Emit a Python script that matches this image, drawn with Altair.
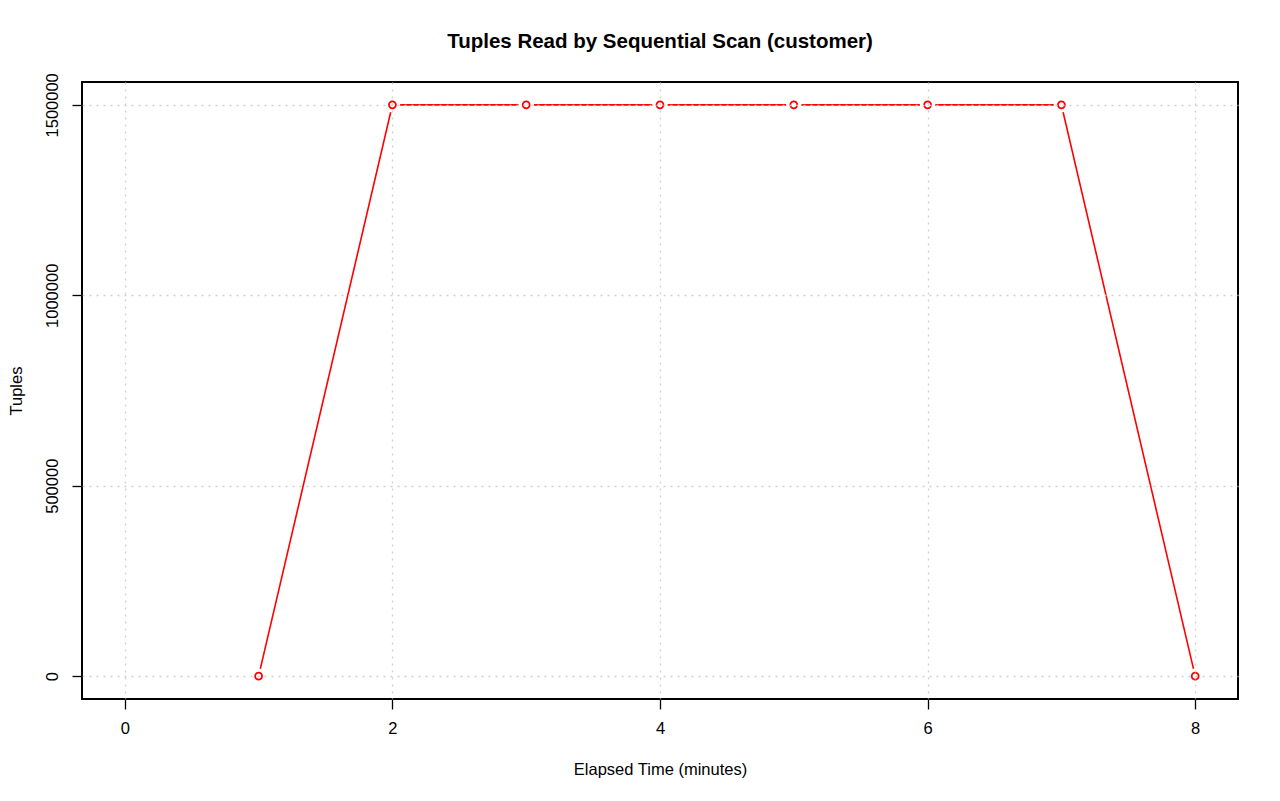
import altair as alt
import pandas as pd

minutes = [1, 2, 3, 4, 5, 6, 7, 8]
tuples = [0, 1500000, 1500000, 1500000, 1500000, 1500000, 1500000, 0]
x_ticks = [0, 2, 4, 6, 8]
y_ticks = [0, 500000, 1000000, 1500000]

df = pd.DataFrame({"minutes": minutes, "tuples": tuples})

FONT = "Liberation Sans"

xscale = alt.Scale(domain=[-0.32, 8.32], nice=False, zero=False)
yscale = alt.Scale(domain=[-60000, 1560000], nice=False, zero=False)

xaxis = alt.Axis(values=x_ticks, title="Elapsed Time (minutes)", grid=True,
                 gridColor="#cfcfcf", gridDash=[2, 5], gridWidth=1.3,
                 domain=False, tickSize=10, tickColor="black", tickWidth=1.3,
                 labelFontSize=16.5, labelFont=FONT, labelColor="black", labelPadding=11,
                 titleFontSize=16.5, titleFont=FONT, titleFontWeight="normal",
                 titleColor="black", titlePadding=25, zindex=1)
yaxis = alt.Axis(values=y_ticks, format="d", title="Tuples", grid=True,
                 gridColor="#cfcfcf", gridDash=[2, 5], gridWidth=1.3,
                 domain=False, tickSize=10, tickColor="black", tickWidth=1.3,
                 labelAngle=-90, labelAlign="center", labelBaseline="bottom",
                 labelFontSize=16.5, labelFont=FONT, labelColor="black", labelPadding=12,
                 titleFontSize=16.5, titleFont=FONT, titleFontWeight="normal",
                 titleColor="black", titlePadding=20, zindex=1)

base = alt.Chart(df).encode(
    x=alt.X("minutes:Q", scale=xscale, axis=xaxis),
    y=alt.Y("tuples:Q", scale=yscale, axis=yaxis),
)

line = base.mark_line(color="#ff0000", strokeWidth=1.6, clip=True)
halo = base.mark_point(shape="circle", filled=True, color="white", size=240, opacity=1, clip=True)
pts = base.mark_point(shape="circle", filled=False, fill="white", fillOpacity=1,
                      stroke="#ff0000", strokeWidth=1.8, size=48, opacity=1, clip=True)

chart = alt.layer(line, halo, pts).properties(
    width=1156, height=617,
    title=alt.Title("Tuples Read by Sequential Scan (customer)", font=FONT,
                    fontSize=20.5, fontWeight="bold", color="black", anchor="middle", offset=20),
    autosize=alt.AutoSizeParams(type="none"),
    padding={"left": 74, "top": 74, "right": 34, "bottom": 94},
    background="white",
).configure_view(stroke="black", strokeWidth=2)

chart.save("out.html", embed_options={"renderer": "svg", "actions": False})
